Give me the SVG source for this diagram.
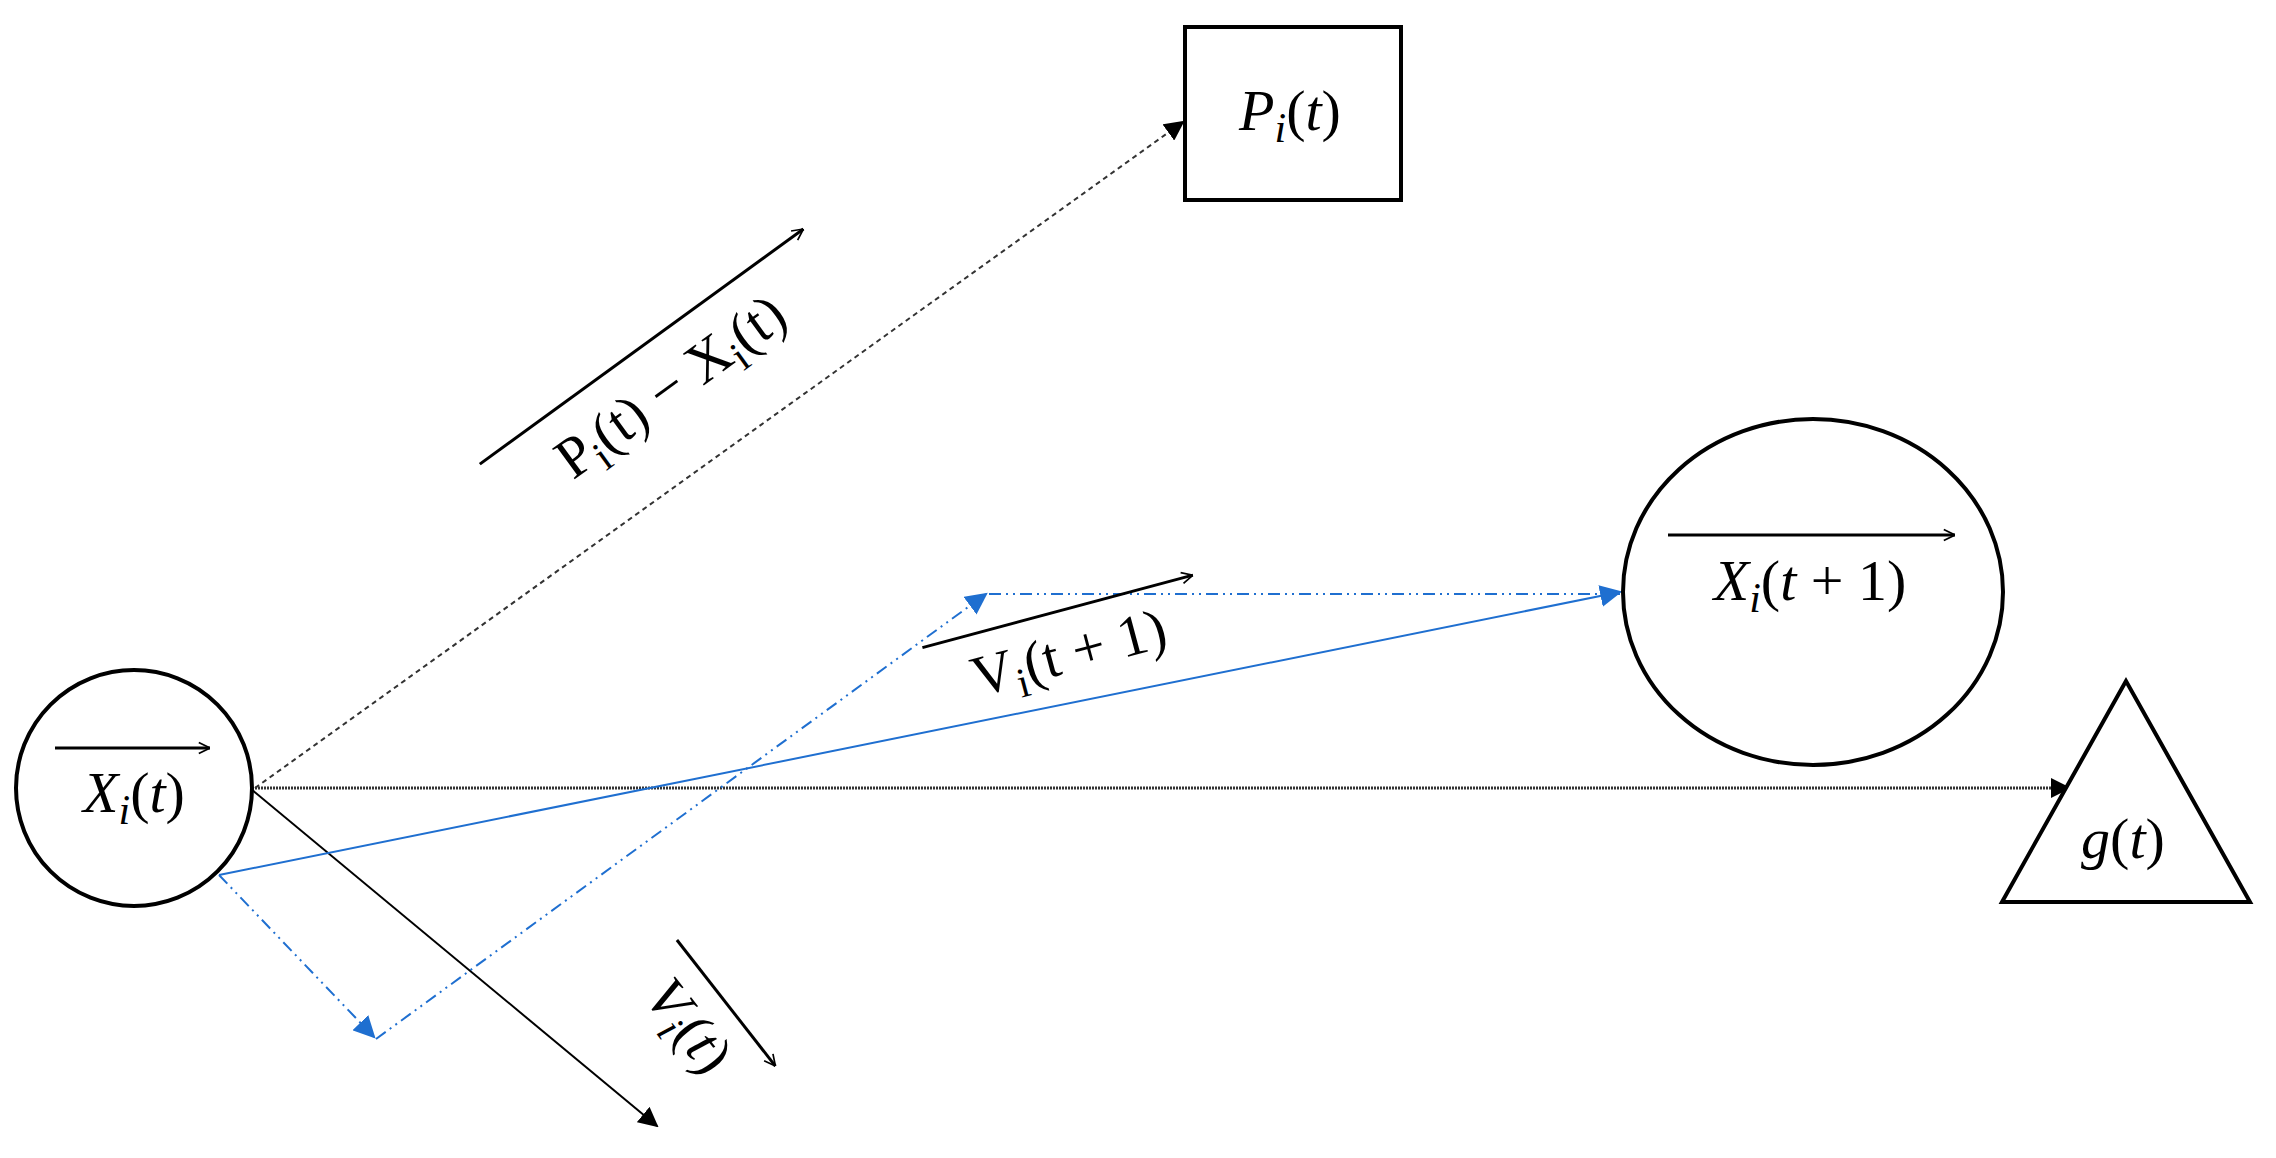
<svg xmlns="http://www.w3.org/2000/svg" width="2276" height="1158" viewBox="0 0 2276 1158">
<defs>
<marker id="ab" viewBox="0 0 10 10" refX="9" refY="5" markerWidth="7" markerHeight="7" orient="auto" markerUnits="userSpaceOnUse"><path d="M0,0L10,5L0,10z" fill="#000"/></marker>
<marker id="ab2" viewBox="0 0 10 10" refX="9" refY="5" markerWidth="20" markerHeight="20" orient="auto" markerUnits="userSpaceOnUse"><path d="M0,0L10,5L0,10z" fill="#000"/></marker>
<marker id="au" viewBox="0 0 10 10" refX="9" refY="5" markerWidth="22" markerHeight="22" orient="auto" markerUnits="userSpaceOnUse"><path d="M0,0L10,5L0,10z" fill="#1f6fd0"/></marker>
<marker id="ov" viewBox="0 0 10 10" refX="10" refY="5" markerWidth="14" markerHeight="14" orient="auto" markerUnits="userSpaceOnUse"><path d="M2,1L10,5L2,9" fill="none" stroke="#000" stroke-width="1.2"/></marker>
</defs>
<style>
.sh{fill:#fff;stroke:#000;stroke-width:4}
.t{font-family:"Liberation Serif",serif;font-size:58px;fill:#000}
.it{font-style:italic}
.ol{stroke:#000;stroke-width:3;fill:none}
.b{stroke:#1f6fd0;fill:none;stroke-width:2}
</style>
<rect width="2276" height="1158" fill="#fff"/>
<g id="connectors">
<line x1="255" y1="788" x2="1183" y2="122" stroke="#333" stroke-width="2" stroke-dasharray="5,4" marker-end="url(#ab2)"/>
<line x1="255" y1="788" x2="2069" y2="788" stroke="#333" stroke-width="3" stroke-dasharray="2,1" marker-end="url(#ab2)"/>
<line x1="251" y1="789" x2="657" y2="1126" stroke="#000" stroke-width="2" marker-end="url(#ab2)"/>
<line class="b" x1="219" y1="875" x2="1620" y2="592" stroke-width="2.5" marker-end="url(#au)"/>
<line class="b" x1="219" y1="875" x2="374" y2="1037" stroke-dasharray="12,5,2,5,2,5" marker-end="url(#au)"/>
<line class="b" x1="376" y1="1039" x2="986" y2="594" stroke-dasharray="12,5,2,5,2,5" marker-end="url(#au)"/>
<line class="b" x1="989" y1="594" x2="1620" y2="594" stroke-dasharray="12,5,2,5,2,5"/>
</g>
<g id="node-x">
<ellipse class="sh" cx="134" cy="788" rx="118" ry="118"/>
<line class="ol" x1="55" y1="748" x2="210" y2="748" marker-end="url(#ov)"/>
<text class="t" x="134" y="812" text-anchor="middle"><tspan class="it">X</tspan><tspan class="it" font-size="42" dy="12">i</tspan><tspan dy="-12">(</tspan><tspan class="it">t</tspan>)</text>
</g>
<g id="node-p">
<rect class="sh" x="1185" y="27" width="216" height="173"/>
<text class="t" x="1290" y="130" text-anchor="middle"><tspan class="it">P</tspan><tspan class="it" font-size="42" dy="12">i</tspan><tspan dy="-12">(</tspan><tspan class="it">t</tspan>)</text>
</g>
<g id="node-x1">
<ellipse class="sh" cx="1813" cy="592" rx="190" ry="173"/>
<line class="ol" x1="1668" y1="535" x2="1955" y2="535" marker-end="url(#ov)"/>
<text class="t" x="1810" y="600" text-anchor="middle"><tspan class="it">X</tspan><tspan class="it" font-size="42" dy="12">i</tspan><tspan dy="-12">(</tspan><tspan class="it">t</tspan> + 1)</text>
</g>
<g id="node-g">
<polygon class="sh" points="2126,681 2002,902 2250,902"/>
<text class="t" x="2123" y="858" text-anchor="middle"><tspan class="it">g</tspan>(<tspan class="it">t</tspan>)</text>
</g>
<g id="label-pminusx" transform="translate(671,387) rotate(-36)">
<line class="ol" x1="-200" y1="-50" x2="200" y2="-50" marker-end="url(#ov)"/>
<text class="t" x="0" y="18" text-anchor="middle">P<tspan font-size="42" dy="12">i</tspan><tspan dy="-12">(t) − X</tspan><tspan font-size="42" dy="12">i</tspan><tspan dy="-12">(t)</tspan></text>
</g>
<g id="label-v1" transform="translate(1068,650) rotate(-15)">
<line class="ol" x1="-140" y1="-40" x2="140" y2="-40" marker-end="url(#ov)"/>
<text class="t" x="0" y="22" text-anchor="middle">V<tspan font-size="42" dy="12">i</tspan><tspan dy="-12">(t + 1)</tspan></text>
</g>
<g id="label-v" transform="translate(690,1025) rotate(52)">
<line class="ol" x1="-75" y1="-42" x2="85" y2="-42" marker-end="url(#ov)"/>
<text class="t" x="0" y="20" text-anchor="middle"><tspan class="it">V</tspan><tspan class="it" font-size="42" dy="12">i</tspan><tspan dy="-12">(</tspan><tspan class="it">t</tspan>)</text>
</g>
</svg>
